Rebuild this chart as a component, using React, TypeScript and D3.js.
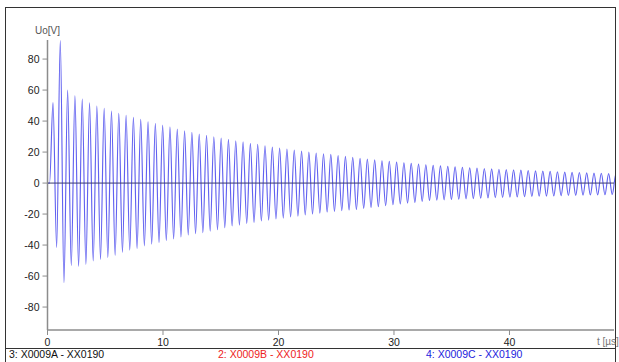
import * as d3 from "d3";
import React, { useEffect, useRef } from "react";

// oscilloscope capture, damped ringing after a step
const yTicks = [80, 60, 40, 20, 0, -20, -40, -60, -80];
const xTicks = [0, 10, 20, 30, 40];
const legendLabels = ["3: X0009A - XX0190", "2: X0009B - XX0190", "4: X0009C - XX0190"];
const legendColors = ["#111111", "#ee2222", "#2222dd"];

// time of first maximum and ringing period, in µs
const firstPeakTime = 0.476;
const ringPeriod = 0.633;

// maxima of each cycle [V]
const peakValues = [
  52, 92, 60, 56.3, 54.2, 51.8, 49.7, 48.2, 46.5, 45, 43.7, 42.4, 41.1, 39.6, 38.5, 37.4,
  36.3, 34.8, 33.7, 32.7, 31.6, 30.8, 29.9, 29, 28.2, 27.3, 26.6, 25.6, 25, 24.1, 23.2,
  22.6, 21.9, 21.3, 20.6, 20, 19.4, 18.9, 18.5, 17.8, 17.2, 16.6, 15.9, 15.5, 15, 14.4,
  14, 13.5, 13.1, 12.7, 12.3, 11.8, 11.4, 11.1, 10.8, 10.5, 10.2, 9.9, 9.7, 9.4, 9.2,
  8.9, 8.7, 8.5, 8.3, 8.1, 7.9, 7.7, 7.5, 7.3, 7.1, 6.9, 6.8, 6.6, 6.4, 6.3, 6.1, 6.0,
];

// minima of each cycle [V]
const troughValues = [
  -41.5, -64.3, -53.3, -53.8, -52.5, -50.3, -49.2, -48, -46.6, -44.7, -43.2, -42.2,
  -40.6, -39.4, -38.5, -37.2, -36.1, -34.8, -33.5, -32.7, -32, -31, -30.1, -28.8, -27.7,
  -27.1, -26, -25.4, -24.5, -23.9, -23.2, -22.6, -21.9, -21.3, -20.6, -20, -19.4, -18.7,
  -18.3, -17.8, -17.4, -17, -16.3, -15.7, -15.3, -14.6, -14, -13.5, -12.9, -12.5, -11.8,
  -11.2, -11.0, -10.8, -10.6, -10.4, -10.2, -10.0, -9.8, -9.6, -9.4, -9.3, -9.1, -9.0,
  -8.8, -8.7, -8.5, -8.4, -8.3, -8.1, -8.0, -7.9, -7.8, -7.7, -7.6, -7.5, -7.4, -7.3,
];

// flat start before the step
const leadIn: [number, number][] = [
  [0, 0],
  [0.18, 0],
];

export default function App() {
  const ref = useRef<SVGSVGElement>(null);

  useEffect(() => {
    const width = 619;
    const height = 362;
    const margin = { top: 40, right: 5, bottom: 32, left: 47.5 };

    const svg = d3.select(ref.current);
    svg.selectAll("*").remove();
    svg.attr("width", width).attr("height", height);

    const x = d3.scaleLinear().domain([0, 49.05]).range([margin.left, width - margin.right]);
    const y = d3.scaleLinear().domain([-94.8, 92.3]).range([height - margin.bottom, margin.top]);

    const font = "'Liberation Sans', Arial, sans-serif";

    // outer frame
    svg
      .append("rect")
      .attr("x", 5.5)
      .attr("y", 7.5)
      .attr("width", 610)
      .attr("height", 360)
      .attr("fill", "white")
      .attr("stroke", "#333")
      .attr("stroke-width", 1);

    svg
      .append("line")
      .attr("x1", 5.5)
      .attr("x2", 615.5)
      .attr("y1", 348.5)
      .attr("y2", 348.5)
      .attr("stroke", "#333");

    svg
      .append("defs")
      .append("clipPath")
      .attr("id", "plot-clip")
      .append("rect")
      .attr("x", 6)
      .attr("y", 8)
      .attr("width", 609)
      .attr("height", 340);

    // waveform points: alternate maxima / minima
    const points: [number, number][] = [...leadIn];
    peakValues.forEach((v, i) => {
      points.push([firstPeakTime + i * ringPeriod, v]);
      if (i < troughValues.length) {
        points.push([firstPeakTime + (i + 0.5) * ringPeriod, troughValues[i]]);
      }
    });

    const line = d3
      .line<[number, number]>()
      .x((d) => x(d[0]))
      .y((d) => y(d[1]))
      .curve(d3.curveMonotoneX);

    const plot = svg.append("g").attr("clip-path", "url(#plot-clip)");

    plot
      .append("path")
      .attr("d", line(points))
      .attr("fill", "none")
      .attr("stroke", "#6262f0")
      .attr("stroke-width", 1.15);

    // zero line
    plot
      .append("line")
      .attr("x1", x(0))
      .attr("x2", width - margin.right)
      .attr("y1", y(0))
      .attr("y2", y(0))
      .attr("stroke", "#3a3a70")
      .attr("stroke-width", 1);

    // y axis
    const yAxis = svg.append("g").attr("transform", `translate(${margin.left},0)`);
    yAxis
      .append("line")
      .attr("y1", margin.top)
      .attr("y2", height - margin.bottom)
      .attr("stroke", "#8c8c8c")
      .attr("stroke-width", 1.5);
    yAxis
      .selectAll("line.tick")
      .data(yTicks)
      .join("line")
      .attr("class", "tick")
      .attr("x1", -5)
      .attr("x2", 0)
      .attr("y1", (d) => y(d))
      .attr("y2", (d) => y(d))
      .attr("stroke", "#8c8c8c");
    yAxis
      .selectAll("text.tick")
      .data(yTicks)
      .join("text")
      .attr("class", "tick")
      .attr("x", -8)
      .attr("y", (d) => y(d) + 3.5)
      .attr("text-anchor", "end")
      .attr("font-family", font)
      .attr("font-size", 10.5)
      .attr("fill", "#222")
      .text((d) => d);
    svg
      .append("text")
      .attr("x", 35)
      .attr("y", 34)
      .attr("font-family", font)
      .attr("font-size", 10)
      .attr("fill", "#555")
      .text("Uo[V]");

    // x axis
    const xAxis = svg.append("g").attr("transform", `translate(0,${height - margin.bottom})`);
    xAxis
      .append("line")
      .attr("x1", margin.left)
      .attr("x2", width - margin.right)
      .attr("stroke", "#8c8c8c")
      .attr("stroke-width", 1.5);
    xAxis
      .selectAll("line.tick")
      .data(xTicks)
      .join("line")
      .attr("class", "tick")
      .attr("x1", (d) => x(d))
      .attr("x2", (d) => x(d))
      .attr("y1", 0)
      .attr("y2", 5)
      .attr("stroke", "#8c8c8c");
    xAxis
      .selectAll("text.tick")
      .data(xTicks)
      .join("text")
      .attr("class", "tick")
      .attr("x", (d) => x(d))
      .attr("y", 16)
      .attr("text-anchor", "middle")
      .attr("font-family", font)
      .attr("font-size", 10.5)
      .attr("fill", "#222")
      .text((d) => d);
    xAxis
      .append("text")
      .attr("x", 597)
      .attr("y", 15)
      .attr("font-family", font)
      .attr("font-size", 10)
      .attr("fill", "#777")
      .text("t [µs]");

    // legend row
    svg
      .selectAll("text.legend")
      .data(legendLabels)
      .join("text")
      .attr("class", "legend")
      .attr("x", (_, i) => [9, 218, 426][i])
      .attr("y", 358)
      .attr("font-family", font)
      .attr("font-size", 10.5)
      .attr("fill", (_, i) => legendColors[i])
      .text((d) => d);
  }, []);

  return (
    <div style={{ position: "absolute", left: 0, top: 0 }}>
      <svg ref={ref} style={{ display: "block" }}></svg>
    </div>
  );
}
